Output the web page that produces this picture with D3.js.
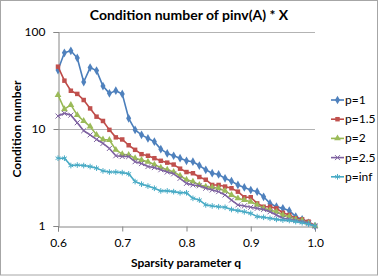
<!DOCTYPE html>
<html>
<head>
<meta charset="utf-8">
<script src="https://cdn.jsdelivr.net/npm/d3@7"></script>
<style>
  body { margin: 0; background: #fff; }
  text { font-family: Lato, "Open Sans", sans-serif; }
</style>
</head>
<body>
<svg id="chart" width="387" height="276"></svg>
<script>
// Sparsity parameter q, 0.60 .. 1.00 in 0.01 steps
const qValues = d3.range(41).map(i => +(0.6 + i * 0.01).toFixed(2));

const p1 = [40.5, 61, 64, 54, 30.5, 43, 40, 27.7, 23.3, 24.8, 23, 12.9, 9.8, 8.7, 8.0,
  7.4, 6.2, 5.6, 5.3, 5.0, 4.7, 4.6, 4.2, 3.8, 3.5, 3.4, 3.1, 2.9, 2.65, 2.5,
  2.35, 2.26, 2.0, 1.71, 1.58, 1.52, 1.44, 1.25, 1.17, 1.08, 1.0];
const p15 = [43.9, 31.5, 24.8, 23, 19.9, 16.3, 13.4, 12.1, 9.8, 8.2, 7.8, 6.8, 6.1, 5.5, 5.3,
  5.0, 4.7, 4.5, 4.3, 3.9, 3.6, 3.5, 3.2, 3.0, 2.65, 2.65, 2.55, 2.45, 2.26, 1.98,
  1.98, 1.71, 1.58, 1.58, 1.52, 1.37, 1.30, 1.20, 1.17, 1.11, 1.0];
const p2 = [22.4, 16, 17.7, 13.9, 12.1, 10.6, 8.7, 7.8, 7.7, 6.1, 5.5, 5.4, 5.0, 4.8, 4.6,
  4.3, 4.0, 3.8, 3.6, 3.3, 3.0, 2.87, 2.65, 2.55, 2.5, 2.45, 2.3, 2.09, 1.93, 1.85,
  1.78, 1.65, 1.52, 1.46, 1.40, 1.30, 1.25, 1.17, 1.14, 1.07, 1.0];
const p25 = [13.6, 14.5, 13.9, 11.6, 9.6, 8.7, 7.8, 7.1, 6.3, 5.3, 5.2, 5.2, 4.6, 4.4, 4.1,
  4.0, 3.8, 3.6, 3.45, 3.1, 2.75, 2.65, 2.6, 2.45, 2.35, 2.26, 2.09, 1.85, 1.65, 1.61,
  1.56, 1.52, 1.48, 1.40, 1.30, 1.20, 1.17, 1.14, 1.11, 1.07, 1.0];
const pInf = [5.0, 5.0, 4.2, 4.25, 4.2, 4.1, 3.95, 3.7, 3.6, 3.6, 3.55, 3.45, 2.87, 2.7, 2.58,
  2.45, 2.3, 2.3, 2.26, 2.2, 2.2, 1.93, 1.85, 1.65, 1.61, 1.58, 1.56, 1.48, 1.44, 1.40,
  1.35, 1.25, 1.23, 1.20, 1.17, 1.15, 1.14, 1.11, 1.08, 1.05, 1.0];

const seriesNames = ["p=1", "p=1.5", "p=2", "p=2.5", "p=inf"];
const seriesValues = [p1, p15, p2, p25, pInf];
const xTicks = [0.6, 0.7, 0.8, 0.9, 1.0];
const yTicks = [1, 10, 100];

const colors = ["#4a7ebb", "#be4b48", "#98b954", "#7d60a0", "#46aac5"];
const markerColors = ["#4f81bd", "#c0504d", "#9bbb59", "#8064a2", "#4bacc6"];
const symbols = [d3.symbolDiamond, d3.symbolSquare, d3.symbolTriangle, d3.symbolX, d3.symbolAsterisk];
const symbolSizes = [22, 20, 20, 18, 22];
const stroked = [false, false, false, true, true];

const svg = d3.select("#chart");

// chart border
svg.append("rect")
    .attr("x", 0.5).attr("y", 0.5)
    .attr("width", 377).attr("height", 274.5)
    .attr("fill", "none").attr("stroke", "#a6a6a6");

const x = d3.scaleLinear().domain([0.6, 1.0]).range([58, 315]);
const y = d3.scaleLog().domain([1, 100]).range([226, 32]);

// gridlines
svg.append("g")
    .selectAll("line")
    .data(yTicks.slice(1))
    .join("line")
    .attr("x1", x(0.6)).attr("x2", x(1.0))
    .attr("y1", d => y(d) + 0.5).attr("y2", d => y(d) + 0.5)
    .attr("stroke", "#b3b3b3");

// axes
const xAxis = svg.append("g")
    .attr("transform", `translate(0,${y(1) + 0.5})`)
    .call(d3.axisBottom(x).tickValues(xTicks).tickFormat(d3.format(".1f")).tickSize(5).tickPadding(7));
const yAxis = svg.append("g")
    .attr("transform", `translate(${x(0.6) + 0.5},0)`)
    .call(d3.axisLeft(y).tickValues(yTicks).tickFormat(d3.format("d")).tickSize(5).tickPadding(8));

[xAxis, yAxis].forEach(ax => {
    ax.select(".domain").attr("stroke", "#868686");
    ax.selectAll(".tick line").attr("stroke", "#868686");
    ax.selectAll(".tick text").attr("fill", "#000").style("font-size", "12px")
        .style("font-family", "Lato, sans-serif");
});

// series
const line = d3.line()
    .x((d, i) => x(qValues[i]))
    .y(d => y(d));

seriesValues.forEach((vals, s) => {
    const g = svg.append("g");
    g.append("path")
        .datum(vals)
        .attr("d", line)
        .attr("fill", "none")
        .attr("stroke", colors[s])
        .attr("stroke-width", 1.6)
        .attr("stroke-linejoin", "round");
    g.selectAll("path.m")
        .data(vals)
        .join("path")
        .attr("class", "m")
        .attr("transform", (d, i) => `translate(${x(qValues[i])},${y(d)})`)
        .attr("d", d3.symbol(symbols[s], symbolSizes[s]))
        .attr("fill", stroked[s] ? "none" : markerColors[s])
        .attr("stroke", stroked[s] ? markerColors[s] : "none")
        .attr("stroke-width", 1);
});

// legend
const legend = svg.append("g");
seriesNames.forEach((name, s) => {
    const ly = 100 + s * 19.2;
    legend.append("line")
        .attr("x1", 331).attr("x2", 344)
        .attr("y1", ly).attr("y2", ly)
        .attr("stroke", colors[s]).attr("stroke-width", 1.6);
    legend.append("path")
        .attr("transform", `translate(337.5,${ly})`)
        .attr("d", d3.symbol(symbols[s], symbolSizes[s]))
        .attr("fill", stroked[s] ? "none" : markerColors[s])
        .attr("stroke", stroked[s] ? markerColors[s] : "none");
    legend.append("text")
        .attr("x", 345).attr("y", ly + 4)
        .style("font-size", "12px")
        .text(name);
});

// titles
svg.append("text")
    .attr("x", 189).attr("y", 20)
    .attr("text-anchor", "middle")
    .style("font-size", "14px").style("font-weight", "bold")
    .text("Condition number of pinv(A) * X");

svg.append("text")
    .attr("x", 186).attr("y", 267)
    .attr("text-anchor", "middle")
    .style("font-size", "12px").style("font-weight", "bold")
    .text("Sparsity parameter q");

svg.append("text")
    .attr("transform", "translate(21,129) rotate(-90)")
    .attr("text-anchor", "middle")
    .style("font-size", "12px").style("font-weight", "bold")
    .text("Condition number");
</script>
</body>
</html>
